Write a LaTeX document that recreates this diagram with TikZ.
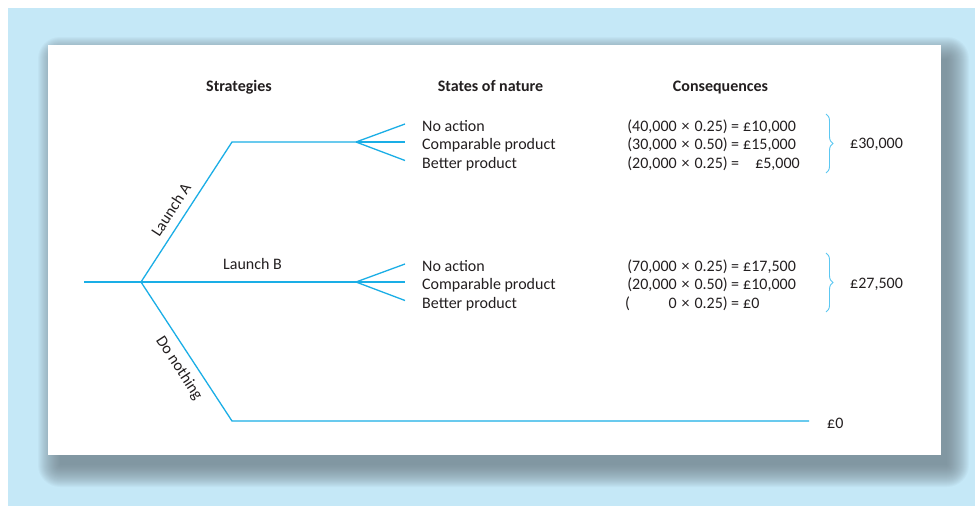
\documentclass[tikz,border=0pt]{standalone}
\usepackage{fontspec}
\setmainfont{Carlito}
\usetikzlibrary{decorations.pathreplacing}
\definecolor{panelbg}{HTML}{C5E8F7}
\definecolor{shadowc}{HTML}{6E7E87}
\definecolor{branch}{HTML}{1AAEE6}
\definecolor{bracec}{HTML}{5CC8F2}
\definecolor{inkc}{HTML}{231F20}
% multiplication sign with slightly wider spacing
\newcommand\tmul{\hspace{1.3pt} × \hspace{1.3pt}}
\tikzset{
  branchline/.style={draw=branch,line width=1.3pt},
  bracestyle/.style={draw=bracec,line width=0.9pt,decorate,decoration={brace,amplitude=7pt}},
  txt/.style={font=\fontsize{16}{18}\selectfont,text=inkc,inner sep=0pt},
  lbl/.style={txt,anchor=base west},
  lblr/.style={txt,anchor=base east},
  hdr/.style={font=\fontsize{16}{18}\selectfont\bfseries,text=inkc,inner sep=0pt,anchor=base},
  slopedlbl/.style={font=\fontsize{16}{18}\selectfont,text=inkc,sloped,inner sep=8pt},
}
\begin{document}
\begin{tikzpicture}[x=1pt,y=-1pt]
\useasboundingbox (0,0) rectangle (975,506);
% frame and soft shadow
\fill[panelbg] (8,8) rectangle (975,506);
\foreach \r in {22,21,...,0}
  \fill[shadowc,opacity=0.05,rounded corners=\r pt] ({60-\r},{59-\r}) rectangle ({947+\r},{465+\r});
\fill[white] (48,45) rectangle (941,455);

% headings
\node[hdr] (hS) at (239,91) {Strategies};
\node[hdr] (hN) at (490.5,91) {States of nature};
\node[hdr] (hC) at (720.5,91) {Consequences};

% decision tree
\coordinate (start) at (84,282);
\coordinate (root) at (141,282);
\coordinate (aKnee) at (232,142);
\coordinate (aFan) at (356,142);
\coordinate (bFan) at (356,282);
\coordinate (dKnee) at (232,421);
\coordinate (dEnd) at (809,421);
\foreach \f/\y in {a/142,b/282}{
  \coordinate (\f1) at (405,\y-18);
  \coordinate (\f2) at (405,\y);
  \coordinate (\f3) at (405,\y+18.5);
}

\draw[branchline] (start) -- (root);
\draw[branchline,line join=miter] (root) -- node[slopedlbl,above,pos=0.46] (lA) {Launch A} (aKnee) -- (aFan);
\draw[branchline] (root) -- (bFan);
\draw[branchline,line join=miter] (root) -- node[slopedlbl,below,pos=0.56] (lD) {Do nothing} (dKnee) -- (dEnd);
\foreach \f in {a,b}{
  \draw[branchline] (\f Fan) -- (\f1);
  \draw[branchline] (\f Fan) -- (\f2);
  \draw[branchline] (\f Fan) -- (\f3);
}
\node[lbl] (lB) at (223,269) {Launch B};

% states of nature
\foreach \f/\y in {a/131,b/271}{
  \node[lbl] (\f S1) at (422,\y) {No action};
  \node[lbl] (\f S2) at (422,\y+18.5) {Comparable product};
  \node[lbl] (\f S3) at (422,\y+37) {Better product};
}

% consequences, launch A
\node[lblr] (aC1) at (728,131) {(40,000\tmul 0.25)};
\node[txt,anchor=base] (aE1) at (735,131) {=};
\node[lbl] (aV1) at (743,131) {£10,000};
\node[lblr] (aC2) at (728,149.5) {(30,000\tmul 0.50)};
\node[txt,anchor=base] (aE2) at (735,149.5) {=};
\node[lbl] (aV2) at (743,149.5) {£15,000};
\node[lblr] (aC3) at (728,168) {(20,000\tmul 0.25)};
\node[txt,anchor=base] (aE3) at (735,168) {=};
\node[lblr] (aV3) at (800,168) {£5,000};

% consequences, launch B
\node[lblr] (bC1) at (728,271) {(70,000\tmul 0.25)};
\node[txt,anchor=base] (bE1) at (735,271) {=};
\node[lbl] (bV1) at (743,271) {£17,500};
\node[lblr] (bC2) at (728,289.5) {(20,000\tmul 0.50)};
\node[txt,anchor=base] (bE2) at (735,289.5) {=};
\node[lbl] (bV2) at (743,289.5) {£10,000};
\node[lbl] (bP3) at (625,308) {(};
\node[lblr] (bC3) at (728,308) {0\tmul 0.25)};
\node[txt,anchor=base] (bE3) at (735,308) {=};
\node[lbl] (bV3) at (743,308) {£0};

% totals
\coordinate (aBrTop) at (826,114);
\coordinate (aBrBot) at (826,173);
\coordinate (bBrTop) at (826,253);
\coordinate (bBrBot) at (826,312);
\draw[bracestyle] (aBrTop) -- (aBrBot);
\draw[bracestyle] (bBrTop) -- (bBrBot);
\node[lbl] (aTot) at (850,148) {£30,000};
\node[lbl] (bTot) at (850,288) {£27,500};
\node[lbl] (dTot) at (827,428) {£0};
\end{tikzpicture}
\end{document}
